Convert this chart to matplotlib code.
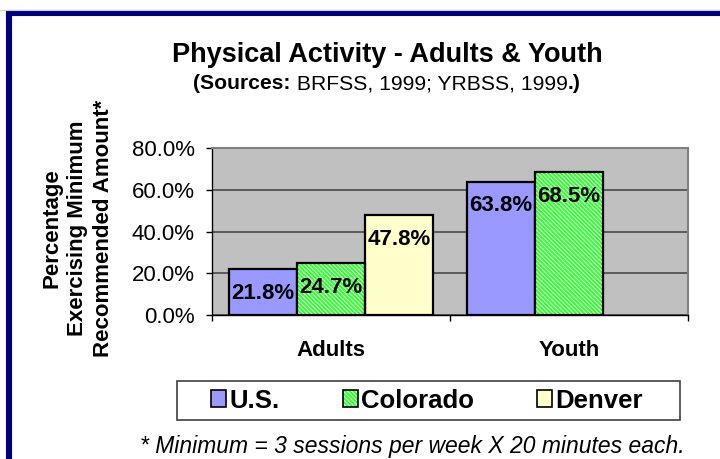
import numpy as np
import matplotlib
matplotlib.use("Agg")
import matplotlib.pyplot as plt
from matplotlib.patches import Rectangle, Patch
from matplotlib.lines import Line2D
from matplotlib.legend_handler import HandlerTuple

plt.rcParams['font.family'] = ['Liberation Sans', 'DejaVu Sans']
plt.rcParams['hatch.linewidth'] = 1.5

# ---- data ----
categories = ["Adults", "Youth"]
series_names = ["U.S.", "Colorado", "Denver"]
us_values = [21.8, 63.8]
colorado_values = [24.7, 68.5]
denver_values = [47.8, np.nan]
y_ticks = [0, 20, 40, 60, 80]

title = "Physical Activity - Adults & Youth"
ylabel = "Percentage\nExercising Minimum\nRecommended Amount*"
footnote = "* Minimum = 3 sessions per week X 20 minutes each."

# ---- style ----
us_color = "#9999FF"
co_hatch_color = "#33FF33"
den_color = "#FFFFCC"
plot_bg = "#C0C0C0"
navy = "#000080"
HATCH = "\\" * 8

W, H = 720, 459
fig = plt.figure(figsize=(W / 100, H / 100), dpi=100)
fig.patch.set_facecolor("white")

ax = fig.add_axes([212 / W, 1 - 315 / H, (688 - 212) / W, (315 - 148) / H])
ax.set_facecolor(plot_bg)

cat_centers = np.arange(len(categories)) + 0.5
bw = 0.286
offsets = [-bw, 0.0, bw]

ax.bar(cat_centers + offsets[0], us_values, width=bw, color=us_color,
       edgecolor="black", linewidth=1.6, zorder=3)
# Colorado: white face + green hatch, then black outline on top
ax.bar(cat_centers + offsets[1], colorado_values, width=bw, color="white",
       edgecolor=co_hatch_color, hatch=HATCH, linewidth=0, zorder=3)
ax.bar(cat_centers + offsets[1], colorado_values, width=bw, fill=False,
       edgecolor="black", linewidth=1.6, zorder=4)
ax.bar(cat_centers + offsets[2], denver_values, width=bw, color=den_color,
       edgecolor="black", linewidth=1.6, zorder=3)

for vals, off in zip([us_values, colorado_values, denver_values], offsets):
    for cx, v in zip(cat_centers, vals):
        if np.isnan(v):
            continue
        ax.annotate(f"{v:.1f}%", (cx + off, v), xytext=(0, -24),
                    textcoords="offset pixels", ha="center", va="center",
                    fontsize=16, fontweight="bold", zorder=6)

ax.set_xlim(0, len(categories))
ax.set_ylim(0, 80)
ax.set_yticks(y_ticks)
ax.set_yticklabels([f"{t:.1f}%" for t in y_ticks], fontsize=16)
ax.tick_params(axis="y", length=4.5, width=1, pad=8, direction="out")
ax.set_xticks(np.arange(len(categories) + 1))
ax.set_xticklabels([])
ax.tick_params(axis="x", which="major", length=4.5, width=1, direction="out")
ax.set_xticks(cat_centers, minor=True)
ax.set_xticklabels(categories, minor=True, fontsize=16, fontweight="bold")
ax.tick_params(axis="x", which="minor", length=0, pad=18)

ax.yaxis.grid(True, color="#404040", linewidth=1.1)
ax.set_axisbelow(True)
for s in ["top", "right"]:
    ax.spines[s].set_color("#808080")
    ax.spines[s].set_linewidth(1.5)
for s in ["left", "bottom"]:
    ax.spines[s].set_color("black")
    ax.spines[s].set_linewidth(1)

# y label
fig.text(78 / W, 1 - 228 / H, ylabel, rotation=90, ha="center", va="center",
         fontsize=16, fontweight="bold", linespacing=1.3,
         multialignment="center")

# title
fig.text(387 / W, 1 - 62 / H, title, ha="center", va="baseline",
         fontsize=19.5, fontweight="bold")

# subtitle with mixed weights
pieces = [("(Sources:", "bold"), (" BRFSS, 1999; YRBSS, 1999", "normal"),
          (".)", "bold")]
sub_texts = [fig.text(0, 1 - 89 / H, p, fontsize=15.2, fontweight=w,
                      ha="left", va="baseline") for p, w in pieces]
fig.canvas.draw()
renderer = fig.canvas.get_renderer()
widths = [t.get_window_extent(renderer).width for t in sub_texts]
x = 387 - sum(widths) / 2
for t, w_ in zip(sub_texts, widths):
    t.set_x(x / W)
    x += w_

# legend frame (drawn separately) and frameless legend content
fig.add_artist(Rectangle((177 / W, 1 - 420 / H), (680 - 177) / W, 39 / H,
                         transform=fig.transFigure, facecolor="white",
                         edgecolor="#404040", linewidth=1.2, zorder=1))
h_us = Patch(facecolor=us_color, edgecolor="black", linewidth=1.2)
h_co = (Patch(facecolor="white", edgecolor=co_hatch_color, hatch=HATCH,
              linewidth=0),
        Patch(fill=False, edgecolor="black", linewidth=1.2))
h_den = Patch(facecolor=den_color, edgecolor="black", linewidth=1.2)
leg = fig.legend([h_us, h_co, h_den], series_names, loc="center",
                 bbox_to_anchor=(427 / W, 1 - 400.5 / H), ncol=3,
                 prop={"size": 18.5, "weight": "bold"},
                 handler_map={tuple: HandlerTuple(ndivide=1)},
                 handlelength=0.6, handleheight=0.6, handletextpad=0.12,
                 columnspacing=2.45, borderpad=0.2, borderaxespad=0,
                 frameon=False)
leg.set_zorder(2)

# footnote
fig.text(412 / W, 1 - 453 / H, footnote, ha="center", va="baseline",
         fontsize=16.5, fontstyle="italic")

# navy frame
fig.add_artist(Line2D([0, 1], [1 - 9.5 / H, 1 - 9.5 / H],
                      transform=fig.transFigure, color="#D0D0D0", lw=0.8))
fig.add_artist(Rectangle((9 / W, -0.2), 2, (1 - 13 / H) + 0.2,
                         transform=fig.transFigure, fill=False,
                         edgecolor=navy, linewidth=4.4, clip_on=False))

fig.savefig("out.png", dpi=100, facecolor="white")
